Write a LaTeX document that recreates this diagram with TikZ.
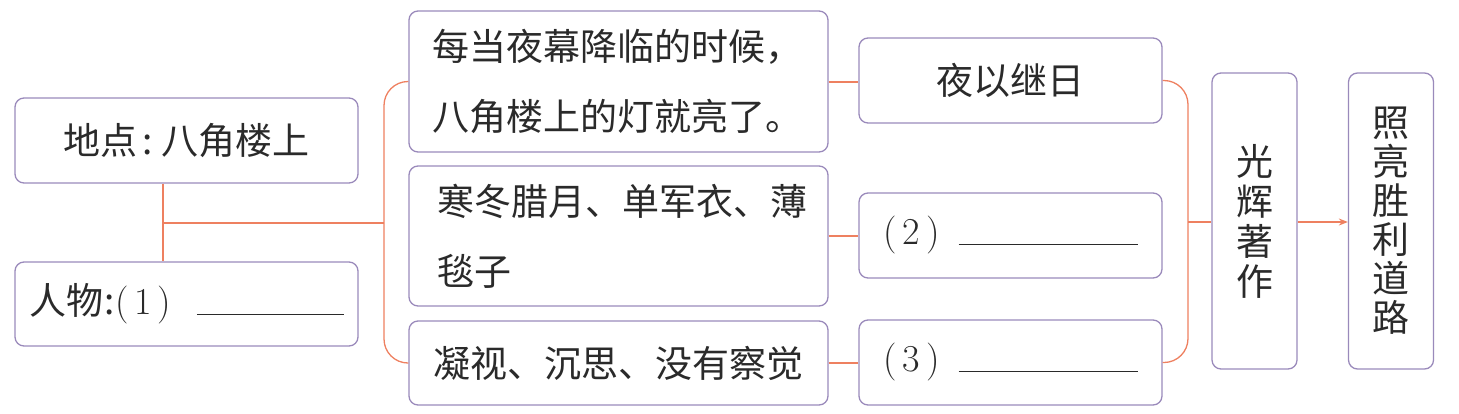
\documentclass[tikz,border=0pt]{standalone}
\usepackage{fontspec}
\newfontfamily\cjk{Noto Sans CJK SC}
\usetikzlibrary{arrows.meta}
\definecolor{boxc}{HTML}{9A8ABB}
\definecolor{conc}{HTML}{EE8060}
\definecolor{txt}{HTML}{2A2A2A}
\tikzset{
  box/.style={draw=boxc, line width=1.3pt, rounded corners=9pt, inner sep=0pt,
    text=txt, font=\cjk\fontsize{37}{70}\selectfont},
  conn/.style={draw=conc, line width=1.3pt}
}
\newcommand{\blankline}[1]{\rule{#1}{1.2pt}}
\newcommand{\numfont}{\fontspec{Latin Modern Roman}\fontsize{38}{40}\selectfont}
\begin{document}
\begin{tikzpicture}[x=1pt,y=-1pt]
\useasboundingbox (0,0) rectangle (1459,413);
% left boxes
\node[box, minimum width=343pt, minimum height=85pt] (A) at (186.5,140.5) {地点\kern5pt:\kern9pt八角楼上};
\node[box, minimum width=343pt, minimum height=84pt] (B) at (186.5,304) {\makebox[86pt][l]{人物\kern2pt:}\makebox[82pt][l]{\numfont(\hspace{6pt}1\hspace{6pt})}\blankline{147pt}};
% middle boxes
\node[box, minimum width=419pt, minimum height=141pt, text width=372pt, align=left] (C) at (618.5,81.5) {每当夜幕降临的时候，\\八角楼上的灯就亮了。};
\node[box, minimum width=419pt, minimum height=140pt, text width=362pt, align=left] (D) at (618.5,236) {寒冬腊月、单军衣、薄\\毯子};
\node[box, minimum width=419pt, minimum height=84pt] (E) at (618.5,363) {凝视、沉思、没有察觉};
% right boxes
\node[box, minimum width=303pt, minimum height=85pt] (F) at (1010.5,80.5) {夜以继日};
\node[box, minimum width=303pt, minimum height=85pt] (G) at (1010.5,235.5) {\makebox[75pt][l]{\numfont(\hspace{6pt}2\hspace{6pt})}\blankline{179pt}};
\node[box, minimum width=303pt, minimum height=85pt] (H) at (1010.5,362.5) {\makebox[75pt][l]{\numfont(\hspace{6pt}3\hspace{6pt})}\blankline{179pt}};
% vertical boxes
\node[box, minimum width=85pt, minimum height=296pt, align=center, font=\cjk\fontsize{37}{40}\selectfont] (I) at (1254.5,221) {光\\辉\\著\\作};
\node[box, minimum width=85pt, minimum height=296pt, align=center, font=\cjk\fontsize{37}{39}\selectfont] (J) at (1391,221) {照\\亮\\胜\\利\\道\\路};
% connectors
\coordinate (j1) at (163,223);
\coordinate (b1) at (384,223);
\coordinate (b2) at (1188,222);
\coordinate (cf) at (843,82);
\draw[conn] (j1 |- A.south) -- (j1 |- B.north);
\draw[conn] (j1) -- (b1);
\draw[conn, rounded corners=24pt] (C.west) -| (b1) |- (E.west);
\draw[conn] (C.east |- cf) -- (F.west |- cf);
\draw[conn] (D.east) -- (D.east -| G.west);
\draw[conn] (E.east) -- (E.east -| H.west);
\draw[conn, rounded corners=24pt] (F.east) -| (b2) |- (H.east);
\draw[conn] (b2) -- (b2 -| I.west);
\draw[conn, -{Stealth[length=9pt,width=7pt]}] (I.east |- b2) -- (J.west |- b2);
\end{tikzpicture}
\end{document}
